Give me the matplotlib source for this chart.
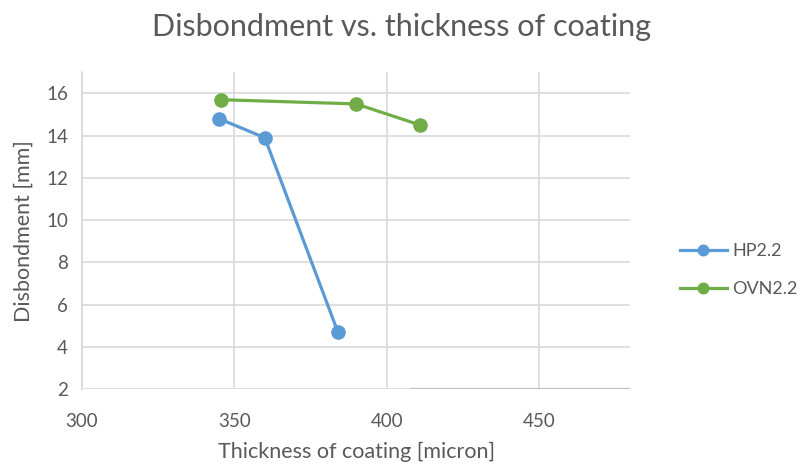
import matplotlib.pyplot as plt

# donnees
hp_x = [345, 360, 384]
hp_y = [14.8, 13.9, 4.7]
ovn_x = [345.5, 390, 411]
ovn_y = [15.7, 15.5, 14.5]
x_ticks = [300, 350, 400, 450]
y_ticks = [2, 4, 6, 8, 10, 12, 14, 16]

txt = '#595959'
plt.rcParams['font.family'] = ['Lato', 'DejaVu Sans']

fig = plt.figure(figsize=(8.04, 4.66), dpi=100)
ax = fig.add_axes([0.102, 0.165, 0.682, 0.68])

ax.plot(hp_x, hp_y, color='#5B9BD5', lw=2.3, marker='o', ms=9.5, label='HP2.2', zorder=3)
ax.plot(ovn_x, ovn_y, color='#70AD47', lw=2.3, marker='o', ms=9.5, label='OVN2.2', zorder=3)

ax.set_xlim(300, 480)
ax.set_ylim(2, 17)
ax.set_xticks(x_ticks)
ax.set_yticks(y_ticks)
ax.grid(True, color='#D9D9D9', lw=1.2)
ax.set_axisbelow(True)
for s in ax.spines.values():
    s.set_visible(False)
ax.spines['left'].set_visible(True)
ax.spines['left'].set_color('#D9D9D9')
ax.spines['left'].set_linewidth(1.2)
# bas de l'axe plus fonce a droite (comme sur l'original)
ax.hlines(2, 408, 480, color='#BFBFBF', lw=1.6, zorder=2)
ax.tick_params(length=0, labelsize=13.5, colors=txt, pad=10)
ax.tick_params(axis='x', pad=17)

ax.set_xlabel('Thickness of coating [micron]', fontsize=15.5, color=txt, labelpad=9)
ax.set_ylabel('Disbondment [mm]', fontsize=15.5, color=txt, labelpad=9)
fig.suptitle('Disbondment vs. thickness of coating', fontsize=22, color=txt, y=0.972)

leg = fig.legend(loc='center left', bbox_to_anchor=(0.841, 0.42), frameon=False,
                 fontsize=13, labelspacing=1.2, handlelength=2.6, handletextpad=0.3,
                 borderaxespad=0, borderpad=0.2, markerscale=0.8)
for t in leg.get_texts():
    t.set_color(txt)

fig.savefig('out.png', dpi=100)
